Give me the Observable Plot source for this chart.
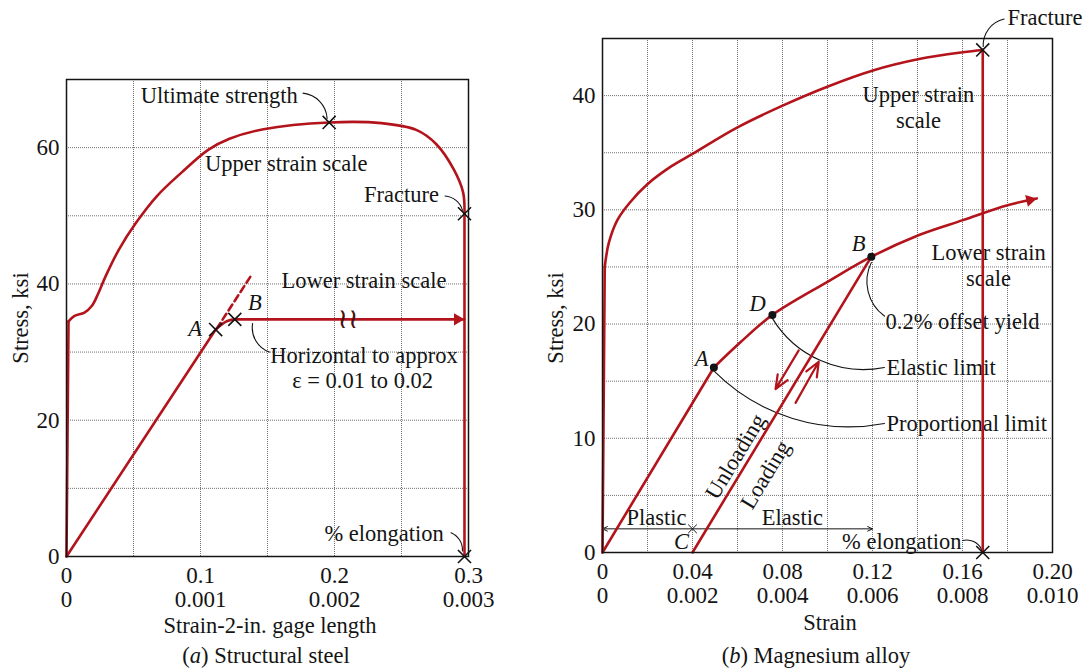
<!DOCTYPE html>
<html>
<head>
<meta charset="utf-8">
<script src="https://cdn.jsdelivr.net/npm/d3@7"></script>
<script src="https://cdn.jsdelivr.net/npm/@observablehq/plot@0.6"></script>
<style>
  body { margin: 0; background: #fff; font-family: "Liberation Serif", "Times New Roman", serif; }
  #page { position: relative; width: 1082px; height: 669px; overflow: hidden; background: #fff; }
  .panel { position: absolute; top: 0; }
  .lbl { position: absolute; font-size: 22.5px; color: #141414; white-space: nowrap; line-height: 1; transform: translate(-50%, -50%); }
  .rot { transform: translate(-50%, -50%) rotate(-90deg); }
</style>
</head>
<body>
<div id="page">
  <div id="left" class="panel" style="left:0px"></div>
  <div id="right" class="panel" style="left:540px"></div>
  <div class="lbl rot" style="left:21px; top:318px">Stress, ksi</div>
  <div class="lbl" style="left:270px; top:626px">Strain-2-in. gage length</div>
  <div class="lbl" style="left:266px; top:656px">(<i>a</i>) Structural steel</div>
  <div class="lbl rot" style="left:556px; top:318px">Stress, ksi</div>
  <div class="lbl" style="left:830px; top:623px">Strain</div>
  <div class="lbl" style="left:816px; top:656px">(<i>b</i>) Magnesium alloy</div>
</div>
<script>
// ---------------- (a) Structural steel ----------------
// x: upper strain scale 0–0.3 ; lower strain scale 0–0.003 (same axis, ×100)
const steelXTicks = [0, 0.1, 0.2, 0.3];
const steelUpperTickLabels = ["0", "0.1", "0.2", "0.3"];
const steelLowerTickLabels = ["0", "0.001", "0.002", "0.003"];
const steelYTicks = [0, 20, 40, 60];
const steelGridX = [0.05, 0.1, 0.15, 0.2, 0.25];
const steelGridY = [10, 20, 30, 40, 50, 60];

// upper strain scale curve
const steelElasticStrain = [0, 0.0015];
const steelElasticStress = [0, 34.5];
const steelUpperStrain = [0.0015, 0.006, 0.0134, 0.019, 0.0237, 0.0289, 0.039, 0.052, 0.0675, 0.0856, 0.106, 0.1216, 0.147, 0.196, 0.235, 0.261, 0.276, 0.289, 0.296, 0.297];
const steelUpperStress = [34.5, 35.3, 35.8, 36.8, 38.6, 41.0, 45.0, 49.0, 52.9, 56.3, 59.7, 61.3, 62.7, 63.7, 63.6, 62.6, 60.5, 56.8, 53.4, 50.3];
const steelDropStrain = [0.297, 0.297];
const steelDropStress = [50.3, 0];

// lower strain scale curve (strain values on lower scale)
const steelLinearStrain = [0, 0.001113];
const steelLinearStress = [0, 33.3];
const steelYieldStrain = [0.001113, 0.00120, 0.001256, 0.00297];
const steelYieldStress = [33.3, 34.55, 34.8, 34.8];
const steelDashStrain = [0.00112, 0.00138];
const steelDashStress = [33.4, 41.3];
const steelBreakStrain = [0.0021];
const steelBreakStress = [34.8];

// marked points (upper-scale positions)
const steelMarkStrain = [0.1113, 0.1256, 0.196, 0.297, 0.297];
const steelMarkStress = [33.3, 34.8, 63.7, 50.3, 0];

const steelNoteText = ["Ultimate strength", "Upper strain scale", "Fracture", "Lower strain scale", "Horizontal to approx", "ε = 0.01 to 0.02", "% elongation"];
const steelNoteStrain = [0.114, 0.164, 0.250, 0.222, 0.222, 0.221, 0.237];
const steelNoteStress = [67.6, 57.7, 53.1, 40.5, 29.4, 25.8, 3.3];
const steelLetterText = ["A", "B"];
const steelLetterStrain = [0.096, 0.1406];
const steelLetterStress = [33.4, 37.2];

const steelLeaderX1 = [0.1765, 0.2825, 0.1389, 0.2870];
const steelLeaderY1 = [68.0, 52.9, 34.2, 3.5];
const steelLeaderX2 = [0.1945, 0.2955, 0.1514, 0.2955];
const steelLeaderY2 = [64.3, 50.8, 30.0, 0.8];
const steelLeaderBend = [40, 35, -40, 35];

// ---------------- (b) Magnesium alloy ----------------
// x: upper strain scale 0–0.20 ; lower strain scale 0–0.010 (same axis, ×20)
const mgXTicks = [0, 0.04, 0.08, 0.12, 0.16, 0.20];
const mgUpperTickLabels = ["0", "0.04", "0.08", "0.12", "0.16", "0.20"];
const mgLowerTickLabels = ["0", "0.002", "0.004", "0.006", "0.008", "0.010"];
const mgYTicks = [0, 10, 20, 30, 40];
const mgGridX = [0.02, 0.04, 0.06, 0.08, 0.10, 0.12, 0.14, 0.16, 0.18];
const mgGridY = [5, 10, 15, 20, 25, 30, 35, 40];

const mgElasticStrain = [0, 0.001];
const mgElasticStress = [0, 25.0];
const mgUpperStrain = [0.001, 0.0028, 0.0066, 0.012, 0.0197, 0.0305, 0.040, 0.0598, 0.0798, 0.1002, 0.1202, 0.1407, 0.1602, 0.169];
const mgUpperStress = [25.0, 27.1, 29.1, 30.6, 32.2, 33.8, 34.9, 37.2, 39.1, 40.8, 42.2, 43.2, 43.8, 44.0];
const mgDropStrain = [0.169, 0.169];
const mgDropStress = [44.0, 0];

// lower strain scale (strain values on lower scale)
const mgLinearStrain = [0, 0.002475];
const mgLinearStress = [0, 16.2];
const mgLowerStrain = [0.002475, 0.003065, 0.003775, 0.0050, 0.005975, 0.007035, 0.00801, 0.0090, 0.00965];
const mgLowerStress = [16.2, 18.4, 20.8, 23.7, 25.9, 27.8, 29.1, 30.4, 31.0];
const mgUnloadStrain = [0.002, 0.005975];
const mgUnloadStress = [0, 25.9];

const mgDotStrain = [0.0495, 0.0755, 0.1195];   // A, D, B (upper-scale positions)
const mgDotStress = [16.2, 20.8, 25.9];
const mgCrossStrain = [0.169, 0.169];
const mgCrossStress = [44.0, 0];
const mgSmallCrossStrain = [0.04];
const mgSmallCrossStress = [2.07];

const mgNoteText = ["Fracture", "Upper strain\nscale", "Lower strain\nscale", "0.2% offset yield", "Plastic", "Elastic", "% elongation"];
const mgNoteStrain = [0.18, 0.1404, 0.1716, 0.160, 0.024, 0.0844, 0.133];
const mgNoteStress = [46.8, 39.05, 25.2, 20.3, 3.1, 3.1, 1.05];
const mgNoteAnchor = ["start", "middle", "middle", "middle", "middle", "middle", "middle"];
const mgLimitText = ["Elastic limit", "Proportional limit"];
const mgLimitStrain = [0.1262, 0.1262];
const mgLimitStress = [16.2, 11.3];
const mgLetterText = ["A", "B", "C", "D"];
const mgLetterStrain = [0.044, 0.1138, 0.0351, 0.0689];
const mgLetterStress = [17.0, 27.0, 0.96, 21.8];
const mgSlantText = ["Unloading", "Loading"];
const mgSlantStrain = [0.0591, 0.0724];
const mgSlantStress = [8.4, 6.8];

const mgLeaderX1 = [0.1785, 0.1195, 0.0755, 0.0495, 0.160];
const mgLeaderY1 = [46.7, 25.4, 20.5, 15.9, 1.05];
const mgLeaderX2 = [0.1692, 0.1253, 0.1253, 0.1253, 0.1685];
const mgLeaderY2 = [44.3, 20.7, 16.2, 11.3, 0.25];
const mgLeaderBend = [-40, -40, -35, -28, 40];

const mgLoadArrowX1 = [0.0872, 0.0858];
const mgLoadArrowY1 = [17.7, 13.1];
const mgLoadArrowX2 = [0.0769, 0.0961];
const mgLoadArrowY2 = [14.3, 16.7];

const mgDimX1 = [0.06, 0.06];
const mgDimX2 = [0.0, 0.12];
const mgDimY = [2.07, 2.07];

// ---------------- helpers ----------------
const RED = "#b3141c", INK = "#141414", GRID = "#707070";
const FONT = "'Liberation Serif', 'Times New Roman', serif";
const FS = 22.5, TFS = 23;
const pts = (xs, ys, k = 1) => xs.map((x, i) => ({x: x * k, y: ys[i]}));
const zip = (cols) => cols[0].map((_, i) => cols.map(c => c[i]));

function headFor(xs, ys, k, xs_, ys_) {
  const n = xs.length;
  const x1 = xs_(xs[n - 2] * k), y1 = ys_(ys[n - 2]);
  const x2 = xs_(xs[n - 1] * k), y2 = ys_(ys[n - 1]);
  const a = Math.atan2(y2 - y1, x2 - x1);
  const h = 7;
  return {rotate: a * 180 / Math.PI + 90, dx: -Math.cos(a) * h, dy: -Math.sin(a) * h};
}

function leaders(x1, y1, x2, y2, bends) {
  return bends.map((b, i) => Plot.arrow([{x1: x1[i], y1: y1[i], x2: x2[i], y2: y2[i]}],
    {x1: "x1", y1: "y1", x2: "x2", y2: "y2", bend: b, headLength: 0, stroke: INK, strokeWidth: 1.1}));
}

const gridStyle = {stroke: GRID, strokeOpacity: 1, strokeWidth: 1, strokeDasharray: "1,1"};
const redLine = {x: "x", y: "y", stroke: RED, strokeWidth: 2.6};

// ---------------- plot (a) ----------------
{
  const W = 540, H = 669, m = {top: 79, right: 72, bottom: 113, left: 66};
  const xs_ = d3.scaleLinear([0, 0.3], [m.left, W - m.right]);
  const ys_ = d3.scaleLinear([0, 70], [H - m.bottom, m.top]);
  const head = headFor(steelYieldStrain, steelYieldStress, 100, xs_, ys_);
  const last = steelYieldStrain.length - 1;

  const plot = Plot.plot({
    width: W, height: H,
    marginTop: m.top, marginRight: m.right, marginBottom: m.bottom, marginLeft: m.left,
    x: {domain: [0, 0.3]},
    y: {domain: [0, 70]},
    style: {fontFamily: FONT, fontSize: FS + "px", color: INK, background: "transparent", overflow: "visible"},
    marks: [
      Plot.gridX(steelGridX, gridStyle),
      Plot.gridY(steelGridY, gridStyle),
      Plot.axisX(steelXTicks, {tickSize: 0, tickPadding: 10, fontSize: TFS, label: null,
        tickFormat: d => steelUpperTickLabels[steelXTicks.indexOf(d)]}),
      Plot.axisX(steelXTicks, {tickSize: 0, tickPadding: 34, fontSize: TFS, label: null,
        tickFormat: d => steelLowerTickLabels[steelXTicks.indexOf(d)]}),
      Plot.axisY(steelYTicks, {tickSize: 0, tickPadding: 7, fontSize: TFS, label: null}),
      Plot.text(zip([steelNoteText, steelNoteStrain, steelNoteStress]), {x: d => d[1], y: d => d[2], text: d => d[0], fontSize: FS, fill: INK}),
      Plot.text(zip([steelLetterText, steelLetterStrain, steelLetterStress]), {x: d => d[1], y: d => d[2], text: d => d[0], fontSize: FS, fontStyle: "italic", fill: INK}),
      ...leaders(steelLeaderX1, steelLeaderY1, steelLeaderX2, steelLeaderY2, steelLeaderBend),
      Plot.line(pts(steelElasticStrain, steelElasticStress), redLine),
      Plot.line(pts(steelUpperStrain, steelUpperStress), {...redLine, curve: "catmull-rom"}),
      Plot.line(pts(steelDropStrain, steelDropStress), redLine),
      Plot.line(pts(steelLinearStrain, steelLinearStress, 100), redLine),
      Plot.line(pts(steelYieldStrain, steelYieldStress, 100), {...redLine, curve: "monotone-x"}),
      Plot.line(pts(steelDashStrain, steelDashStress, 100), {...redLine, strokeDasharray: "7,4"}),
      Plot.dot([{x: steelYieldStrain[last] * 100, y: steelYieldStress[last]}], {x: "x", y: "y", symbol: "triangle", r: 4.5, fill: RED, stroke: "none", rotate: head.rotate, dx: head.dx, dy: head.dy}),
      Plot.text(pts(steelBreakStrain, steelBreakStress, 100), {x: "x", y: "y", text: () => "≀≀", fontFamily: "DejaVu Sans", fontSize: 28, letterSpacing: "-3px", fill: "#4a1010"}),
      Plot.frame({stroke: INK, strokeWidth: 1.5}),
      Plot.dot(pts(steelMarkStrain, steelMarkStress), {x: "x", y: "y", symbol: "times", r: 6, stroke: INK, strokeWidth: 1.6})
    ]
  });
  document.getElementById("left").appendChild(plot);
}

// ---------------- plot (b) ----------------
{
  const W = 542, H = 669, m = {top: 38, right: 30, bottom: 117, left: 62};
  const xs_ = d3.scaleLinear([0, 0.2], [m.left, W - m.right]);
  const ys_ = d3.scaleLinear([0, 45], [H - m.bottom, m.top]);
  const head = headFor(mgLowerStrain, mgLowerStress, 20, xs_, ys_);
  const last = mgLowerStrain.length - 1;
  const ang = Math.atan2(ys_(mgUnloadStress[1]) - ys_(mgUnloadStress[0]), xs_(mgUnloadStrain[1] * 20) - xs_(mgUnloadStrain[0] * 20)) * 180 / Math.PI;

  const plot = Plot.plot({
    width: W, height: H,
    marginTop: m.top, marginRight: m.right, marginBottom: m.bottom, marginLeft: m.left,
    x: {domain: [0, 0.2]},
    y: {domain: [0, 45]},
    style: {fontFamily: FONT, fontSize: FS + "px", color: INK, background: "transparent", overflow: "visible"},
    marks: [
      Plot.gridX(mgGridX, gridStyle),
      Plot.gridY(mgGridY, gridStyle),
      Plot.axisX(mgXTicks, {tickSize: 0, tickPadding: 10, fontSize: TFS, label: null,
        tickFormat: d => mgUpperTickLabels[mgXTicks.indexOf(d)]}),
      Plot.axisX(mgXTicks, {tickSize: 0, tickPadding: 34, fontSize: TFS, label: null,
        tickFormat: d => mgLowerTickLabels[mgXTicks.indexOf(d)]}),
      Plot.axisY(mgYTicks, {tickSize: 0, tickPadding: 7, fontSize: TFS, label: null}),
      Plot.text(zip([mgNoteText, mgNoteStrain, mgNoteStress, mgNoteAnchor]).filter(d => d[3] === "middle"), {x: d => d[1], y: d => d[2], text: d => d[0], fontSize: FS, lineHeight: 1.15, fill: INK}),
      Plot.text(zip([mgNoteText, mgNoteStrain, mgNoteStress, mgNoteAnchor]).filter(d => d[3] === "start"), {x: d => d[1], y: d => d[2], text: d => d[0], fontSize: FS, textAnchor: "start", fill: INK}),
      Plot.text(zip([mgLimitText, mgLimitStrain, mgLimitStress]), {x: d => d[1], y: d => d[2], text: d => d[0], fontSize: FS, textAnchor: "start", fill: INK}),
      Plot.text(zip([mgLetterText, mgLetterStrain, mgLetterStress]), {x: d => d[1], y: d => d[2], text: d => d[0], fontSize: FS, fontStyle: "italic", fill: INK}),
      Plot.text(zip([mgSlantText, mgSlantStrain, mgSlantStress]), {x: d => d[1], y: d => d[2], text: d => d[0], fontSize: FS, rotate: ang, fill: INK}),
      ...leaders(mgLeaderX1, mgLeaderY1, mgLeaderX2, mgLeaderY2, mgLeaderBend),
      Plot.arrow(zip([mgDimX1, mgDimX2, mgDimY]), {x1: d => d[0], x2: d => d[1], y1: d => d[2], y2: d => d[2], stroke: INK, strokeWidth: 1, headLength: 8, headAngle: 50}),
      Plot.dot(pts(mgSmallCrossStrain, mgSmallCrossStress), {x: "x", y: "y", symbol: "times", r: 4, stroke: INK, strokeWidth: 1}),
      Plot.line(pts(mgElasticStrain, mgElasticStress), redLine),
      Plot.line(pts(mgUpperStrain, mgUpperStress), {...redLine, curve: "catmull-rom"}),
      Plot.line(pts(mgDropStrain, mgDropStress), redLine),
      Plot.line(pts(mgLinearStrain, mgLinearStress, 20), redLine),
      Plot.line(pts(mgLowerStrain, mgLowerStress, 20), {...redLine, curve: "catmull-rom"}),
      Plot.line(pts(mgUnloadStrain, mgUnloadStress, 20), redLine),
      Plot.arrow(zip([mgLoadArrowX1, mgLoadArrowY1, mgLoadArrowX2, mgLoadArrowY2]), {x1: d => d[0], y1: d => d[1], x2: d => d[2], y2: d => d[3], stroke: RED, strokeWidth: 2.2, headLength: 11, headAngle: 45}),
      Plot.dot([{x: mgLowerStrain[last] * 20, y: mgLowerStress[last]}], {x: "x", y: "y", symbol: "triangle", r: 4.5, fill: RED, stroke: "none", rotate: head.rotate, dx: head.dx, dy: head.dy}),
      Plot.frame({stroke: INK, strokeWidth: 1.5}),
      Plot.dot(pts(mgDotStrain, mgDotStress), {x: "x", y: "y", r: 4, fill: INK, stroke: "none"}),
      Plot.dot(pts(mgCrossStrain, mgCrossStress), {x: "x", y: "y", symbol: "times", r: 6, stroke: INK, strokeWidth: 1.6})
    ]
  });
  document.getElementById("right").appendChild(plot);
}
</script>
</body>
</html>
